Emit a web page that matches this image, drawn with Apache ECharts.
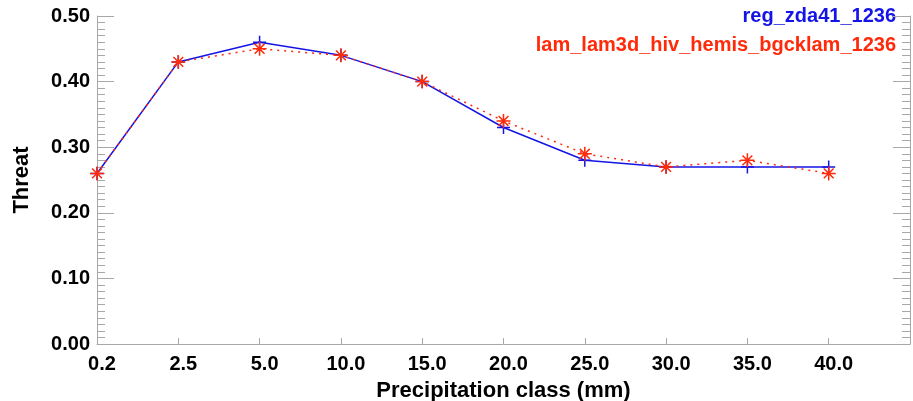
<!DOCTYPE html>
<html>
<head>
<meta charset="utf-8">
<script src="https://cdn.jsdelivr.net/npm/echarts@6/dist/echarts.min.js"></script>
<style>
  html, body { margin: 0; padding: 0; background: #fff; }
  #chart { width: 913px; height: 401px; }
</style>
</head>
<body>
<div id="chart"></div>
<script>
// Precipitation classes (mm) along the x axis
const classes = ['0.2', '2.5', '5.0', '10.0', '15.0', '20.0', '25.0', '30.0', '35.0', '40.0'];
// Threat score per class for each model run
const regZda41 = [0.26, 0.43, 0.46, 0.44, 0.40, 0.33, 0.28, 0.27, 0.27, 0.27];
const lamHemis = [0.26, 0.43, 0.45, 0.44, 0.40, 0.34, 0.29, 0.27, 0.28, 0.26];
const seriesNames = ['reg_zda41_1236', 'lam_lam3d_hiv_hemis_bgcklam_1236'];
const yTicks = [0.0, 0.1, 0.2, 0.3, 0.4, 0.5];

const BLUE = '#1414e6';
const RED = '#ff2a0a';
const AXIS = '#a8a8a8';
const FONT = '"Liberation Sans", Arial, Helvetica, sans-serif';

// one empty slot past the last class leaves room before the right-hand axis
const xCats = classes.concat(['']);

const plusPath = 'path://M5,0L5,10M0,5L10,5';
const starPath = 'path://M5,0L5,10M0,5L10,5M1.5,1.5L8.5,8.5M1.5,8.5L8.5,1.5';

const yCommon = {
  type: 'value',
  min: yTicks[0],
  max: yTicks[yTicks.length - 1],
  interval: 0.1,
  splitLine: { show: false },
  axisLine: { show: true, lineStyle: { color: AXIS, width: 1 } },
  axisTick: { show: true, inside: true, length: 17, lineStyle: { color: AXIS } },
  minorTick: { show: true, splitNumber: 10, length: 8, lineStyle: { color: AXIS } },
  minorSplitLine: { show: false }
};

const chart = echarts.init(document.getElementById('chart'), null, { renderer: 'canvas' });
chart.setOption({
  animation: false,
  backgroundColor: '#ffffff',
  grid: { left: 97, right: 3, top: 16, bottom: 57, containLabel: false, outerBoundsMode: 'none' },
  xAxis: {
    type: 'category',
    data: xCats,
    boundaryGap: false,
    name: 'Precipitation class (mm)',
    nameLocation: 'middle',
    nameGap: 36,
    nameTextStyle: { fontFamily: FONT, fontWeight: 'bold', fontSize: 22, color: '#000' },
    axisLine: { lineStyle: { color: AXIS, width: 1 } },
    axisTick: { show: true, inside: true, length: 6, alignWithLabel: true, lineStyle: { color: AXIS } },
    axisLabel: {
      interval: 0,
      margin: 10,
      padding: [0, 0, 0, 10],
      fontFamily: FONT, fontWeight: 'bold', fontSize: 20, color: '#000'
    },
    splitLine: { show: false }
  },
  yAxis: [
    Object.assign({}, yCommon, {
      position: 'left',
      name: 'Threat',
      nameLocation: 'middle',
      nameGap: 64,
      nameTextStyle: { fontFamily: FONT, fontWeight: 'bold', fontSize: 22, color: '#000' },
      axisLabel: {
        margin: 7,
        fontFamily: FONT, fontWeight: 'bold', fontSize: 20, color: '#000',
        formatter: v => v.toFixed(2)
      }
    }),
    Object.assign({}, yCommon, {
      position: 'right',
      axisLabel: { show: false }
    })
  ],
  graphic: [
    {
      type: 'text', right: 17, top: 6,
      style: { text: seriesNames[0], fill: BLUE, font: 'bold 20px ' + FONT }
    },
    {
      type: 'text', right: 17, top: 35,
      style: { text: seriesNames[1], fill: RED, font: 'bold 20px ' + FONT }
    }
  ],
  series: [
    {
      name: seriesNames[0],
      type: 'line',
      data: regZda41,
      symbol: plusPath,
      symbolSize: 13,
      itemStyle: { color: 'transparent', borderColor: BLUE, borderWidth: 1.5 },
      lineStyle: { color: BLUE, width: 1.5, type: 'solid' },
      z: 2
    },
    {
      name: seriesNames[1],
      type: 'line',
      data: lamHemis,
      symbol: starPath,
      symbolSize: 14,
      itemStyle: { color: 'transparent', borderColor: RED, borderWidth: 1.5 },
      lineStyle: { color: RED, width: 1.5, type: [2, 5] },
      z: 3
    }
  ]
});
</script>
</body>
</html>
